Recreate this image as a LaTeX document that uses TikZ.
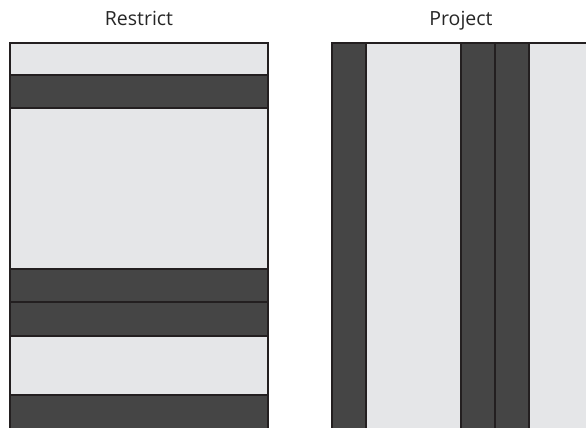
\documentclass[tikz,border=0pt]{standalone}
\usepackage{fontspec}
\setmainfont{Open Sans}
\usetikzlibrary{positioning}
\definecolor{bandlight}{HTML}{E5E6E8}
\definecolor{banddark}{HTML}{454545}
\definecolor{bandedge}{HTML}{231F20}

\begin{document}
\begin{tikzpicture}[x=1pt, y=-1pt,
  every node/.style={font=\fontsize{19.5}{23}\selectfont, text=black!85},
  lightband/.style={draw=bandedge, line width=2pt, fill=bandlight},
  darkband/.style={draw=bandedge, line width=2pt, fill=banddark},
]
\useasboundingbox (0,0) rectangle (586,428);
\clip (0,0) rectangle (586,428);
% Titles
\node[anchor=base] (restrict) at (139,26) {Restrict};
\node[anchor=base] (project) at (461,26) {Project};
% Restrict: horizontal bands
\foreach \top/\bot/\kind in {43/75/lightband, 75/108/darkband,
    108/269/lightband, 269/302/darkband, 302/336/darkband,
    336/395/lightband, 395/440/darkband}
  \draw[\kind] (10,\top) rectangle (268,\bot);
% Project: vertical bands
\foreach \lft/\rgt/\kind in {332/366/darkband, 366/461/lightband,
    461/495/darkband, 495/529/darkband, 529/600/lightband}
  \draw[\kind] (\lft,43) rectangle (\rgt,440);
\end{tikzpicture}
\end{document}
